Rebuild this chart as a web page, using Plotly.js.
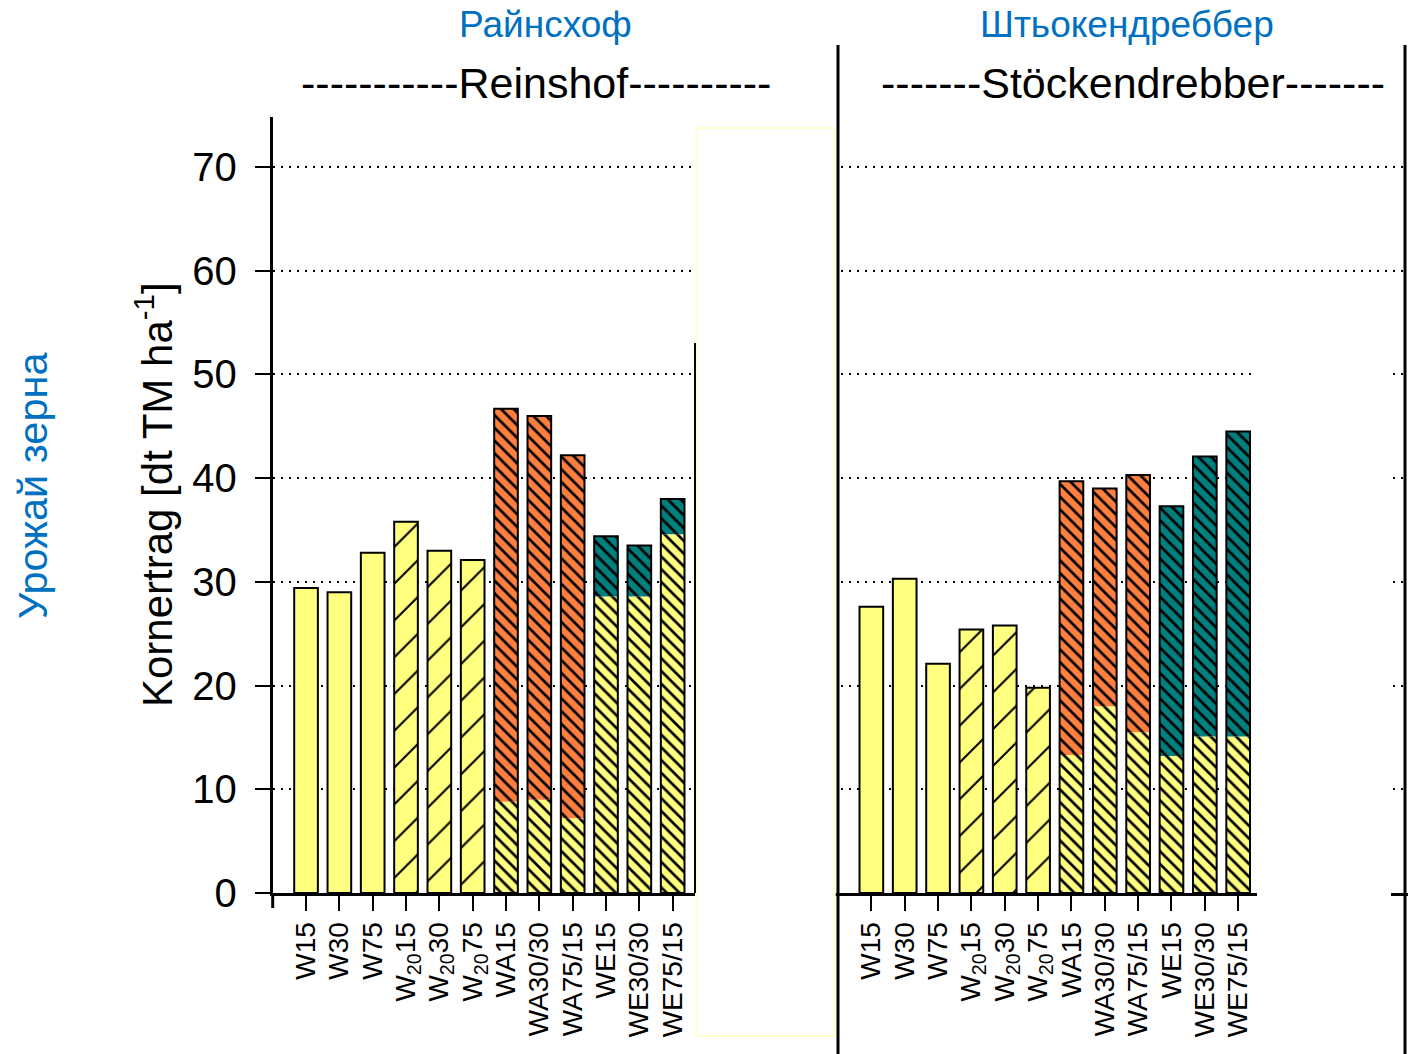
<!DOCTYPE html>
<html><head><meta charset="utf-8">
<script src="https://cdn.plot.ly/plotly-3.0.1.min.js"></script>
<style>body{margin:0;background:#fff}#chart{width:1408px;height:1054px}</style>
</head><body><div id="chart"></div>
<script>
// ---- data ----
const categories = ['W15','W30','W75','W<sub>20</sub>15','W<sub>20</sub>30','W<sub>20</sub>75','WA15','WA30/30','WA75/15','WE15','WE30/30','WE75/15'];
const yTickVals = [0,10,20,30,40,50,60,70];
// Reinshof: total grain yield per treatment
const reinshofTotal = [29.4, 29.0, 32.8, 35.8, 33.0, 32.1, 46.7, 46.0, 42.2, 34.4, 33.5, 38.0];
// Reinshof: lower (wheat) part of the mixed treatments WA15..WE75/15
const reinshofLower = [8.8, 9.0, 7.2, 28.6, 28.6, 34.6];
// Stöckendrebber
const stockTotal = [27.6, 30.3, 22.1, 25.4, 25.8, 19.8, 39.7, 39.0, 40.3, 37.3, 42.1, 44.5];
const stockLower = [13.3, 18.0, 15.5, 13.2, 15.1, 15.1];

const YELLOW = '#FFFF80', ORANGE = '#FF7F3F', TEAL = '#007F7F', BLUE = '#0070C0';
const FONT = 'Liberation Sans, Arial, sans-serif';
const W = 1408, H = 1054;
const px = v => v / W, py = v => 1 - v / H;

const pos = categories.map((c, i) => i + 1);
const BW = 0.71;

function panel(total, lower, xa, ya) {
  const plainX = pos.slice(0, 3), hatchX = pos.slice(3, 6), mixX = pos.slice(6, 12);
  const mixTotal = total.slice(6, 12);
  const upper = mixTotal.map((t, i) => t - lower[i]);
  const common = {type: 'bar', xaxis: xa, yaxis: ya, width: BW, showlegend: false, hoverinfo: 'y'};
  const dense = (bg) => ({shape: '\\', size: 9, solidity: 0.3, fgcolor: '#000', bgcolor: bg, fillmode: 'replace'});
  return [
    Object.assign({}, common, {x: plainX, y: total.slice(0, 3),
      marker: {color: YELLOW, line: {color: '#000', width: 2}}}),
    Object.assign({}, common, {x: hatchX, y: total.slice(3, 6),
      marker: {color: YELLOW, line: {color: '#000', width: 2},
        pattern: {shape: '/', size: 26, solidity: 0.08, fgcolor: '#000', bgcolor: YELLOW, fillmode: 'replace'}}}),
    Object.assign({}, common, {x: mixX, y: lower,
      marker: {color: YELLOW, line: {width: 0}, pattern: dense(YELLOW)}}),
    Object.assign({}, common, {x: mixX.slice(0, 3), y: upper.slice(0, 3), base: lower.slice(0, 3),
      marker: {color: ORANGE, line: {width: 0}, pattern: dense(ORANGE)}}),
    Object.assign({}, common, {x: mixX.slice(3, 6), y: upper.slice(3, 6), base: lower.slice(3, 6),
      marker: {color: TEAL, line: {width: 0}, pattern: dense(TEAL)}}),
    Object.assign({}, common, {x: mixX, y: mixTotal,
      marker: {color: 'rgba(0,0,0,0)', line: {color: '#000', width: 2}}})
  ];
}

const data = panel(reinshofTotal, reinshofLower, 'x', 'y')
  .concat(panel(stockTotal, stockLower, 'x2', 'y2'));

const K = 33.33;       // px per category
const yDom = [py(893), py(117)];
const yTop = (893 - 117) / 10.371;

const gridCommon = {showgrid: true, gridcolor: '#000', gridwidth: 2, griddash: '2px,6px', zeroline: false};

const layout = {
  width: W, height: H, margin: {l: 0, r: 0, t: 0, b: 0},
  paper_bgcolor: '#fff', plot_bgcolor: 'rgba(0,0,0,0)',
  barmode: 'overlay', font: {family: FONT, color: '#000'},
  xaxis: {domain: [px(272.7), px(695)], range: [0, (695 - 272.7) / K], anchor: 'y',
    tickvals: pos, ticktext: categories, tickangle: -90,
    tickfont: {size: 28, family: FONT}, ticks: 'outside', ticklen: 15, tickwidth: 2, tickcolor: '#000',
    showline: true, linewidth: 3, linecolor: '#000', showgrid: false, zeroline: false, fixedrange: true},
  yaxis: Object.assign({domain: yDom, range: [0, yTop], anchor: 'x',
    tickvals: yTickVals, tickfont: {size: 40, family: FONT}, ticks: 'outside', ticklen: 15, tickwidth: 2,
    ticklabelstandoff: 10,
    tickcolor: '#000', showline: true, linewidth: 3, linecolor: '#000', fixedrange: true}, gridCommon),
  xaxis2: {domain: [px(833), 1], range: [-0.15, (1408 - 838.3) / K], anchor: 'y2',
    tickvals: pos, ticktext: categories, tickangle: -90,
    tickfont: {size: 28, family: FONT}, ticks: 'outside', ticklen: 15, tickwidth: 2, tickcolor: '#000',
    showline: true, linewidth: 3, linecolor: '#000', showgrid: false, zeroline: false, fixedrange: true},
  yaxis2: Object.assign({domain: yDom, range: [0, yTop], anchor: 'x2', tickvals: yTickVals,
    showticklabels: false, ticks: '', showline: false, fixedrange: true}, gridCommon),
  shapes: [
    {type: 'rect', xref: 'paper', yref: 'paper', x0: px(697), x1: px(835), y0: py(1036), y1: py(128),
      fillcolor: '#fff', line: {color: '#FFFFC0', width: 1.5}, layer: 'above'},
    {type: 'rect', xref: 'paper', yref: 'paper', x0: px(1257), x1: px(1391), y0: 0, y1: py(300),
      fillcolor: '#fff', line: {width: 0}, layer: 'above'},
    {type: 'line', xref: 'paper', yref: 'paper', x0: px(695), x1: px(695), y0: py(893), y1: py(343),
      line: {color: '#000', width: 2}, layer: 'above'},
    {type: 'line', xref: 'paper', yref: 'paper', x0: px(272.7), x1: px(272.7), y0: py(908), y1: py(893),
      line: {color: '#000', width: 3}, layer: 'above'},
    {type: 'line', xref: 'paper', yref: 'paper', x0: px(838), x1: px(838), y0: 0, y1: py(45),
      line: {color: '#000', width: 3}, layer: 'above'},
    {type: 'line', xref: 'paper', yref: 'paper', x0: px(1405), x1: px(1405), y0: 0, y1: py(45),
      line: {color: '#000', width: 3}, layer: 'above'}
  ],
  annotations: [
    {text: 'Райнсхоф', xref: 'paper', yref: 'paper', x: px(545), y: py(25), showarrow: false,
      font: {size: 37, color: BLUE, family: FONT}, xanchor: 'center', yanchor: 'middle'},
    {text: '-----------Reinshof----------', xref: 'paper', yref: 'paper', x: px(536), y: py(83), showarrow: false,
      font: {size: 43, color: '#000', family: FONT}, xanchor: 'center', yanchor: 'middle'},
    {text: 'Штьокендреббер', xref: 'paper', yref: 'paper', x: px(1127), y: py(25), showarrow: false,
      font: {size: 37, color: BLUE, family: FONT}, xanchor: 'center', yanchor: 'middle'},
    {text: '-------Stöckendrebber-------', xref: 'paper', yref: 'paper', x: px(1133), y: py(83), showarrow: false,
      font: {size: 43, color: '#000', family: FONT}, xanchor: 'center', yanchor: 'middle'},
    {text: 'Kornertrag [dt TM ha<sup>-1</sup>]', xref: 'paper', yref: 'paper', x: px(154), y: py(495), showarrow: false,
      textangle: -90, font: {size: 42, color: '#000', family: FONT}, xanchor: 'center', yanchor: 'middle'},
    {text: 'Урожай зерна', xref: 'paper', yref: 'paper', x: px(32), y: py(486), showarrow: false,
      textangle: -90, font: {size: 41.5, color: BLUE, family: FONT}, xanchor: 'center', yanchor: 'middle'}
  ]
};

Plotly.newPlot('chart', data, layout, {staticPlot: true, displayModeBar: false});
</script></body></html>
